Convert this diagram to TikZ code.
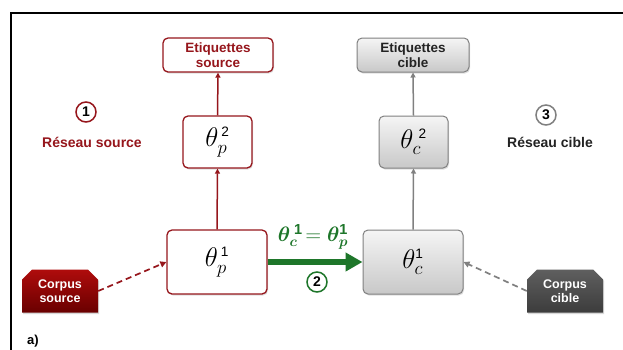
\documentclass[tikz,border=0pt]{standalone}
\usepackage{graphicx}
\usepackage{fontspec}
\setmainfont{Liberation Sans}
\setsansfont{Liberation Sans}
\usepackage{bm}
\usetikzlibrary{arrows.meta,shapes.misc,shadows}
\definecolor{dred}{RGB}{150,22,28}
\definecolor{rtop}{RGB}{175,12,12}
\definecolor{rbot}{RGB}{105,0,0}
\definecolor{mgray}{RGB}{128,128,128}
\definecolor{gtop}{RGB}{245,245,245}
\definecolor{gbot}{RGB}{200,200,200}
\definecolor{ctop}{RGB}{95,95,95}
\definecolor{cbot}{RGB}{60,60,60}
\definecolor{dgreen}{RGB}{30,118,42}
\definecolor{txtgray}{RGB}{35,35,35}
\newcommand{\supnum}[1]{\mbox{\fontsize{10.5}{10.5}\selectfont #1}}
\newcommand{\gsupnum}[1]{\mbox{\bfseries\fontsize{10}{10}\selectfont #1}}
\newcommand{\bigth}[1]{\scalebox{1.3}{\fontsize{20}{20}\selectfont$#1$}}
\begin{document}
\begin{tikzpicture}[x=1pt,y=-1pt,
  shad/.style={drop shadow={opacity=0.25,shadow xshift=1pt,shadow yshift=-1.5pt}},
  lab/.style={font=\fontsize{13.5}{15}\selectfont\bfseries, align=center, inner sep=0pt},
  srcbox/.style={draw=dred, line width=1.3pt, fill=white, rounded corners=5pt, shad},
  tgtbox/.style={draw=mgray, line width=1pt, top color=gtop, bottom color=gbot, rounded corners=5pt, shad},
  thetabig/.style={inner sep=0pt},
  numcirc/.style={circle, line width=1.5pt, minimum size=20pt, inner sep=0pt, font=\fontsize{14}{14}\selectfont\bfseries, fill=white},
  corpus/.style={chamfered rectangle, chamfered rectangle corners={north west,north east}, chamfered rectangle xsep=5pt, chamfered rectangle ysep=5pt, minimum width=76pt, minimum height=43pt, inner sep=0pt, text=white, align=center, font=\fontsize{12.5}{14.5}\selectfont\bfseries, drop shadow={opacity=0.3,shadow xshift=1pt,shadow yshift=-1.5pt}},
  srcarrow/.style={dred, line width=1.5pt, -{Triangle[length=5pt,width=5pt]}},
  tgtarrow/.style={mgray, line width=1.5pt, -{Triangle[length=5pt,width=5pt]}},
  srcdash/.style={dred, line width=1.7pt, dash pattern=on 6pt off 4pt, -{Triangle[length=6pt,width=6pt]}},
  tgtdash/.style={mgray, line width=1.7pt, dash pattern=on 6pt off 4pt, -{Triangle[length=6pt,width=6pt]}},
  ]
\clip (0,0) rectangle (623,349);
\fill[white] (0,0) rectangle (623,349);
\draw[line width=1.2pt] (11,360) -- (11,13) -- (640,13);

% source column
\node[srcbox, lab, text=dred, minimum width=110pt, minimum height=34pt] (es) at (218,55) {Etiquettes\\source};
\node[srcbox, thetabig, minimum width=69pt, minimum height=52pt] (tp2) at (217.5,142) {\bigth{\theta_p^{\,\supnum{2}}}};
\node[srcbox, thetabig, minimum width=100pt, minimum height=64pt] (tp1) at (217,262) {\bigth{\theta_p^{\,\supnum{1}}}};

% target column
\node[tgtbox, lab, text=txtgray, minimum width=112pt, minimum height=34pt] (ec) at (413,55) {Etiquettes\\cible};
\node[tgtbox, thetabig, minimum width=69pt, minimum height=52pt] (tc2) at (413.5,142) {\bigth{\theta_c^{\;\supnum{2}}}};
\node[tgtbox, thetabig, minimum width=100pt, minimum height=64pt] (tc1) at (413,262) {\bigth{\theta_c^{\supnum{1}}}};

% corpora
\node[corpus, top color=rtop, bottom color=rbot] (cs) at (60,291) {Corpus\\source};
\node[corpus, top color=ctop, bottom color=cbot] (cc) at (565,291) {Corpus\\cible};

% labels
\node[numcirc, draw=dred] (c1) at (86,112) {1};
\node[lab, text=dred, font=\fontsize{14}{16}\selectfont\bfseries] (rs) at (92,142) {Réseau source};
\node[numcirc, draw=mgray] (c3) at (546,115) {3};
\node[lab, text=txtgray, font=\fontsize{14}{16}\selectfont\bfseries] (rc) at (550,142) {Réseau cible};
\node[numcirc, draw=dgreen] (c2) at (317,282) {2};
\node[text=dgreen, inner sep=0pt] (eq) at (313,237) {\scalebox{1.45}{\fontsize{14.4}{14.4}\selectfont$\bm{\theta}_{\bm c}^{\;\gsupnum{1}}\!=\bm{\theta}_{\bm p}^{\gsupnum{1}}$}};
\node[inner sep=0pt, font=\fontsize{13}{13}\selectfont\bfseries] (a) at (33,341) {a)};

% connectors
\draw[srcarrow] (tp1.north) -- (tp2.south);
\draw[srcarrow] (tp2.north) -- (es.south);
\draw[tgtarrow] (tc1.north) -- (tc2.south);
\draw[tgtarrow] (tc2.north) -- (ec.south);
\draw[dgreen, line width=6pt, -{Triangle[length=17pt,width=18pt]}] (tp1.east) -- (tc1.west);
\draw[srcdash] (cs.east) -- (tp1.west);
\draw[tgtdash] (cc.west) -- (tc1.east);
\end{tikzpicture}
\end{document}
